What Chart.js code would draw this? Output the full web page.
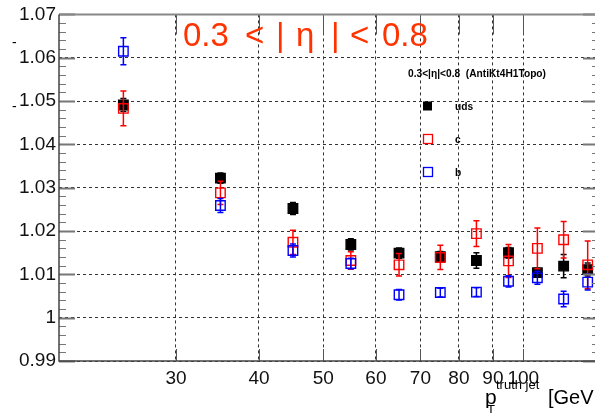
<!DOCTYPE html>
<html>
<head>
<meta charset="utf-8">
<script src="https://cdn.jsdelivr.net/npm/chart.js@4.4.0/dist/chart.umd.min.js"></script>
<style>
body{margin:0;overflow:hidden;background:#fff;}
#wrap{position:absolute;left:0;top:0;width:610px;height:413px;}
</style>
</head>
<body>
<div id="wrap"><canvas id="c" width="610" height="413"></canvas></div>
<script>
// pT bins (bin centres, GeV)
var ptBins = [25, 35, 45, 55, 65, 75, 85, 95, 105, 115, 125];
// response per flavour
var udsVal = [1.0491, 1.0322, 1.0252, 1.0169, 1.0149, 1.0141, 1.0132, 1.0150, 1.0104, 1.0119, 1.0111];
var udsErr = [0.0015, 0.0012, 0.0014, 0.0013, 0.0012, 0.0012, 0.0018, 0.0012, 0.0010, 0.0027, 0.0015];
var cVal   = [1.0483, 1.0288, 1.0174, 1.0132, 1.0122, 1.0139, 1.0194, 1.0131, 1.0160, 1.0180, 1.0122];
var cErr   = [0.0040, 0.0027, 0.0028, 0.0020, 0.0026, 0.0028, 0.0030, 0.0038, 0.0047, 0.0042, 0.0055];
var bVal   = [1.0615, 1.0259, 1.0155, 1.0125, 1.0053, 1.0058, 1.0059, 1.0084, 1.0092, 1.0043, 1.0082];
var bErr   = [0.0031, 0.0016, 0.0015, 0.0012, 0.0012, 0.0010, 0.0010, 0.0013, 0.0015, 0.0018, 0.0018];
// axis ticks
var xTicks = [30, 40, 50, 60, 70, 80, 90, 100];
var yTicks = [0.99, 1, 1.01, 1.02, 1.03, 1.04, 1.05, 1.06, 1.07];

var FONT = '"Liberation Sans", Arial, Helvetica, sans-serif';

function pts(vals){
	var out = [];
	for(var i = 0; i < ptBins.length; i++) out.push({x: ptBins[i], y: vals[i]});
	return out;
}

var errs = [udsErr, cErr, bErr];

var errorBars = {
	id: 'errorBars',
	beforeDatasetDraw: function(chart, args){
		var ds = chart.data.datasets[args.index],
			e  = errs[args.index],
			xs = chart.scales.x, ys = chart.scales.y,
			ctx = chart.ctx;
		ctx.save();
		ctx.strokeStyle = ds.borderColor;
		ctx.lineWidth = 1.5;
		for(var i = 0; i < ds.data.length; i++){
			var px = xs.getPixelForValue(ds.data[i].x),
				y1 = ys.getPixelForValue(ds.data[i].y + e[i]),
				y2 = ys.getPixelForValue(ds.data[i].y - e[i]);
			ctx.beginPath();
			ctx.moveTo(px, y1); ctx.lineTo(px, y2);
			ctx.moveTo(px - 3, y1); ctx.lineTo(px + 3, y1);
			ctx.moveTo(px - 3, y2); ctx.lineTo(px + 3, y2);
			ctx.stroke();
		}
		ctx.restore();
	}
};

var decor = {
	id: 'decor',
	afterDatasetsDraw: function(chart){
		var ctx = chart.ctx, a = chart.chartArea,
			xs = chart.scales.x, ys = chart.scales.y;
		ctx.save();
		// inner tick marks on y axes
		ctx.strokeStyle = '#777';
		for(var v = 0; v <= 40; v++){
			var val = 0.99 + v * 0.002,
				py = Math.round(ys.getPixelForValue(val)) + 0.5,
				major = (v % 5 == 0),
				len = major ? 16 : 7;
			ctx.lineWidth = major ? 2 : 1;
			ctx.beginPath();
			ctx.moveTo(a.left, py); ctx.lineTo(a.left + len, py);
			ctx.moveTo(a.right, py); ctx.lineTo(a.right - len, py);
			ctx.stroke();
		}
		// tick marks on x axes
		ctx.strokeStyle = '#555';
		ctx.lineWidth = 1;
		xTicks.forEach(function(t){
			var px = Math.round(xs.getPixelForValue(t)) + 0.5;
			ctx.beginPath();
			ctx.moveTo(px, a.bottom); ctx.lineTo(px, a.bottom - 12);
			ctx.moveTo(px, a.top); ctx.lineTo(px, a.top + 20);
			ctx.stroke();
		});
		// frame
		ctx.strokeStyle = '#888';
		ctx.lineWidth = 2;
		ctx.beginPath();
		ctx.moveTo(a.left, a.top); ctx.lineTo(a.right, a.top); ctx.lineTo(a.right, a.bottom);
		ctx.stroke();
		ctx.strokeStyle = '#444';
		ctx.lineWidth = 1.5;
		ctx.beginPath();
		ctx.moveTo(a.left, a.top); ctx.lineTo(a.left, a.bottom); ctx.lineTo(a.right, a.bottom);
		ctx.stroke();

		// big title
		ctx.fillStyle = '#ff3300';
		ctx.font = '33px ' + FONT;
		ctx.textBaseline = 'alphabetic';
		[['0.3', 183], ['<', 245], ['|', 276], ['\u03b7', 296], ['|', 331], ['<', 350], ['0.8', 382]].forEach(function(p){
			ctx.fillText(p[0], p[1], 46);
		});

		// legend
		ctx.fillStyle = '#000';
		ctx.font = 'bold 10.2px ' + FONT;
		ctx.textBaseline = 'middle';
		ctx.fillText('0.3<|\u03b7|<0.8  (AntiKt4H1Topo)', 408, 74);
		var leg = [['uds', '#000', true, 106], ['c', '#ff0000', false, 139], ['b', '#0000ff', false, 172]];
		leg.forEach(function(l){
			if(l[2]){ ctx.fillStyle = l[1]; ctx.fillRect(423, l[3] - 4.5, 9, 9); }
			else { ctx.strokeStyle = l[1]; ctx.lineWidth = 1.3; ctx.strokeRect(423.5, l[3] - 4.5, 9, 9); }
			ctx.fillStyle = '#000';
			ctx.fillText(l[0], 455, l[3] + 1);
		});

		// axis title
		ctx.textBaseline = 'alphabetic';
		ctx.font = '21px ' + FONT;
		ctx.fillText('p', 485, 404);
		ctx.font = '20px ' + FONT;
		ctx.fillText('[GeV', 548, 404);
		ctx.font = '13px ' + FONT;
		ctx.fillText('truth jet', 496, 389);
		ctx.fillText('T', 487, 414);

		// stray dashes at the left edge
		ctx.font = '14px ' + FONT;
		ctx.fillText('-', 12, 47);
		ctx.fillText('-', 12, 111);
		ctx.restore();
	}
};

function mk(label, vals, color, filled, order){
	return {
		label: label,
		data: pts(vals),
		borderColor: color,
		backgroundColor: filled ? color : 'rgba(0,0,0,0)',
		pointStyle: 'rect',
		pointRadius: 6.7,
		pointBorderWidth: 1.4,
		showLine: false,
		order: order
	};
}

new Chart(document.getElementById('c').getContext('2d'), {
	type: 'scatter',
	data: {
		datasets: [
			mk('uds', udsVal, '#000000', true, 3),
			mk('c', cVal, '#ff0000', false, 2),
			mk('b', bVal, '#0000ff', false, 1)
		]
	},
	options: {
		responsive: false,
		animation: false,
		devicePixelRatio: 1,
		layout: {padding: {left: 0, right: 11, top: 13, bottom: 0}},
		plugins: {legend: {display: false}, tooltip: {enabled: false}},
		scales: {
			x: {
				type: 'logarithmic',
				min: 20, max: 130,
				afterBuildTicks: function(s){ s.ticks = xTicks.map(function(v){ return {value: v}; }); },
				afterFit: function(s){ s.height = 52; },
				border: {display: false, dash: [3, 3]},
				grid: {color: '#333', lineWidth: 1, drawTicks: false},
				ticks: {
					autoSkip: false, maxRotation: 0, padding: 6,
					color: '#111', font: {family: FONT, size: 19},
					callback: function(v){ return String(v); }
				}
			},
			y: {
				min: 0.99, max: 1.07,
				afterBuildTicks: function(s){ s.ticks = yTicks.map(function(v){ return {value: v}; }); },
				afterFit: function(s){ s.width = 59; },
				border: {display: false, dash: [3, 3]},
				grid: {color: '#333', lineWidth: 1, drawTicks: false},
				ticks: {
					padding: 3,
					color: '#111', font: {family: FONT, size: 19},
					callback: function(v){ return String(Math.round(v * 100) / 100); }
				}
			}
		}
	},
	plugins: [errorBars, decor]
});
</script>
</body>
</html>
